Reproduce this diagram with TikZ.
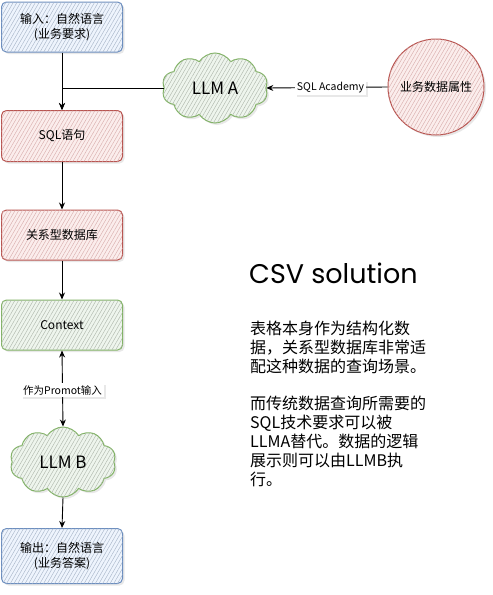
\documentclass[tikz,border=0pt]{standalone}
\usepackage{fontspec}
\setmainfont{Noto Sans CJK SC}
\newfontfamily\titlefont{Poppins}
\usetikzlibrary{shapes.symbols,shapes.geometric,patterns.meta,arrows.meta,shadows}
\definecolor{bfill}{HTML}{EEF4FD}
\definecolor{bline}{HTML}{6C8EBF}
\definecolor{bhatch}{HTML}{A9B6C9}
\definecolor{rfill}{HTML}{FBEDEC}
\definecolor{rline}{HTML}{B85450}
\definecolor{rhatch}{HTML}{D9AFAE}
\definecolor{gfill}{HTML}{EEF5ED}
\definecolor{gline}{HTML}{82B366}
\definecolor{ghatch}{HTML}{B0B8AD}
\tikzset{
  shad/.style={drop shadow={opacity=0.18,shadow xshift=2pt,shadow yshift=-2pt}},
  boxbase/.style={rectangle,rounded corners=5pt,minimum width=121pt,line width=1pt,
    align=center,font=\fontsize{12}{15}\selectfont,shad},
  bluebox/.style={boxbase,draw=bline,fill=bfill,
    postaction={pattern={Lines[angle=60,distance=3.2pt,line width=0.45pt]},pattern color=bhatch}},
  redbox/.style={boxbase,draw=rline,fill=rfill,
    postaction={pattern={Lines[angle=60,distance=3.2pt,line width=0.45pt]},pattern color=rhatch}},
  greenbox/.style={boxbase,draw=gline,fill=gfill,
    postaction={pattern={Lines[angle=60,distance=3.2pt,line width=0.45pt]},pattern color=ghatch}},
  cloudnode/.style={cloud,cloud puffs=10,cloud puff arc=115,cloud ignores aspect,
    draw=gline,line width=1pt,fill=gfill,shad,
    postaction={pattern={Lines[angle=60,distance=3.2pt,line width=0.45pt]},pattern color=ghatch},
    font=\fontsize{17}{19}\selectfont},
  arr/.style={-{Stealth[length=7pt,width=6pt]},line width=0.9pt,black},
  lbl/.style={fill=white,inner sep=2pt,font=\fontsize{10.5}{12}\selectfont,shad},
  para/.style={align=left,anchor=north west,inner sep=0pt,
    font=\fontsize{16}{19}\selectfont}
}
\begin{document}
\begin{tikzpicture}[x=1pt,y=-1pt]
\useasboundingbox (0,0) rectangle (493,595);
\node[bluebox,minimum height=50pt] (in) at (62,27) {输入：自然语言\\(业务要求)};
\node[redbox,minimum height=51pt] (sql) at (62,136) {SQL语句};
\node[redbox,minimum height=50pt] (db) at (62,235) {关系型数据库};
\node[greenbox,minimum height=50pt] (ctx) at (62,325) {Context};
\node[cloudnode,minimum width=106pt,minimum height=70pt] (llma) at (215,88) {LLM A};
\node[cloudnode,minimum width=106pt,minimum height=70pt] (llmb) at (63,462) {LLM B};
\node[bluebox,minimum height=55pt] (out) at (62,556) {输出：自然语言\\(业务答案)};
\node[circle,draw=rline,line width=1pt,fill=rfill,minimum size=96pt,shad,
  postaction={pattern={Lines[angle=60,distance=3.2pt,line width=0.45pt]},pattern color=rhatch},
  font=\fontsize{12}{14}\selectfont] (attr) at (436,87) {业务数据属性};

\draw[arr] (in.south) -- (sql.north);
\draw[arr] (llma.west) -| (sql.north);
\draw[arr] (attr.west) -- node[lbl,pos=0.47] (lab1) {SQL Academy} (llma.east);
\draw[arr] (sql.south) -- (db.north);
\draw[arr] (db.south) -- (ctx.north);
\draw[arr,{Stealth[length=7pt,width=6pt]}-{Stealth[length=7pt,width=6pt]}] (ctx.south) -- node[lbl,pos=0.52] (lab2) {作为Promot输入} (llmb.north);
\draw[arr] (llmb.south) -- (out.north);

\node[anchor=west,inner sep=0pt,font=\titlefont\fontsize{27}{30}\selectfont] (title) at (249,273) {CSV solution};
\node[para] (p1) at (250,321) {表格本身作为结构化数\\据，关系型数据库非常适\\配这种数据的查询场景。};
\node[para] (p2) at (250,396) {而传统数据查询所需要的\\SQL技术要求可以被\\LLMA替代。数据的逻辑\\展示则可以由LLMB执\\行。};
\end{tikzpicture}
\end{document}
